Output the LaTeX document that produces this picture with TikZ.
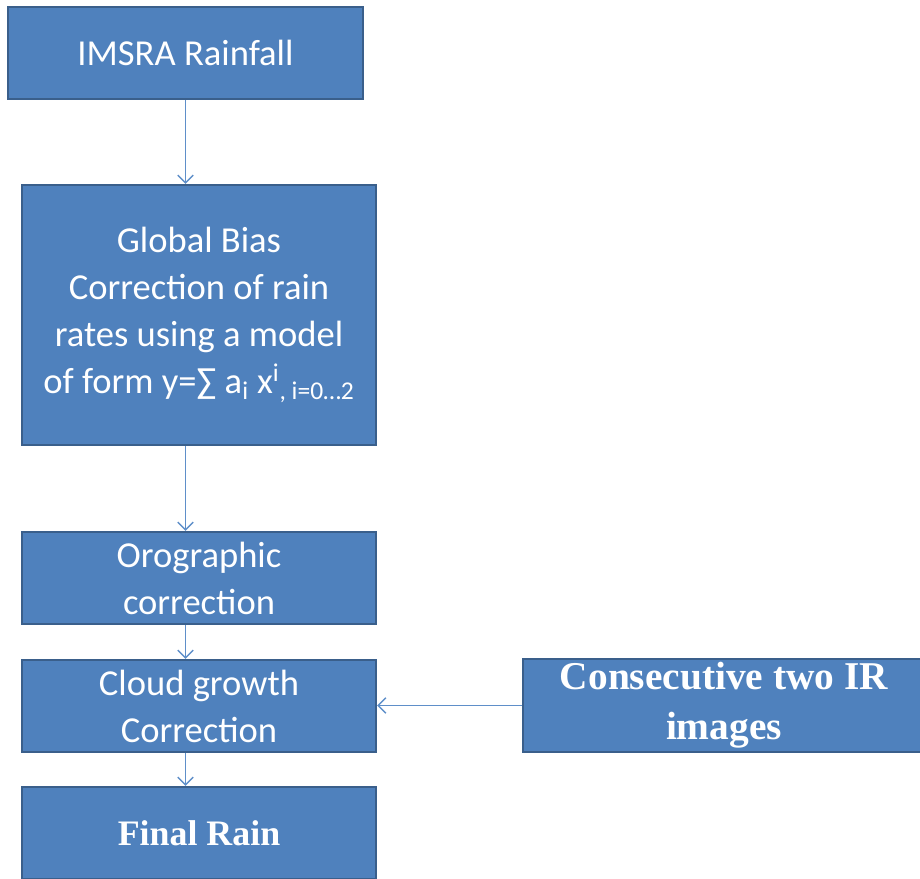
\documentclass[tikz,border=0pt]{standalone}
\usepackage{fontspec}
\setmainfont{Carlito}
\newfontfamily\timesfont{Liberation Serif}
\usetikzlibrary{arrows.meta}
\definecolor{boxblue}{HTML}{4F81BD}
\definecolor{boxedge}{HTML}{3A5F8B}
\definecolor{lineblue}{HTML}{5F8FC9}

\begin{document}
\begin{tikzpicture}[x=0.025cm, y=-0.025cm, auto, >={Straight Barb[length=5.5pt,width=11pt]},
	box/.style={rectangle, draw=boxedge, fill=boxblue, line width=1.6pt, text=white, align=center, inner sep=0pt, font=\fontsize{26}{33.4}\selectfont},
	serifbox/.style={box, font=\fontsize{25.5}{31}\selectfont\timesfont\bfseries},
	flow/.style={->, draw=lineblue, line width=1pt}]

\useasboundingbox (0,0) rectangle (920,879);
\clip (0,0) rectangle (920,879);

				% cadena principal
				\node [box, minimum width=8.875cm, minimum height=2.3cm] (imsra) at (185.5,53) {IMSRA Rainfall};
				\node [box, minimum width=8.85cm, minimum height=6.5cm] (bias) at (199,315) {Global Bias\\Correction of rain\\rates using a model\\of form y=∑ a\textsubscript{i} x\textsuperscript{i}\textsubscript{, i=0…2}};
				\node [box, minimum width=8.85cm, minimum height=2.3cm] (oro) at (199,578) {Orographic\\correction};
				\node [box, minimum width=8.85cm, minimum height=2.3cm] (cloud) at (199,706) {Cloud growth\\Correction};
				\node [serifbox, minimum width=8.85cm, minimum height=2.3cm] (final) at (199,833) {Final Rain};
				% entrada lateral
				\node [serifbox, font=\fontsize{28}{35.5}\selectfont\timesfont\bfseries, minimum width=10.05cm, minimum height=2.33cm] (irimg) at (724,705.5) {Consecutive two IR\\images};

				\draw [flow] (imsra.south) -- (imsra.south |- bias.north); %primera flecha
				\draw [flow] (bias.south -| imsra.south) -- (oro.north -| imsra.south);
				\draw [flow] (oro.south -| imsra.south) -- (cloud.north -| imsra.south);
				\draw [flow] (cloud.south -| imsra.south) -- (final.north -| imsra.south);
				\draw [flow] (irimg.west) -- (irimg.west -| cloud.east); %flecha IR

\end{tikzpicture}
\end{document}
